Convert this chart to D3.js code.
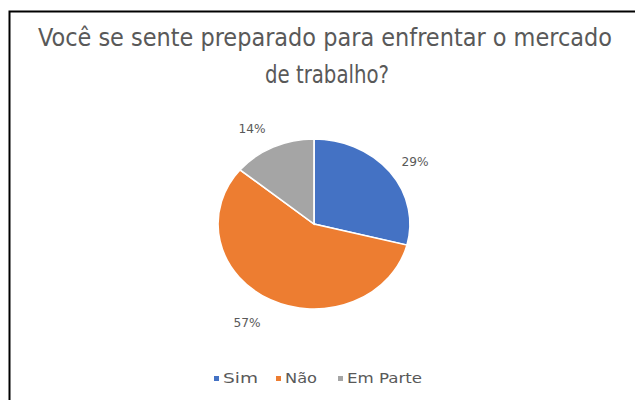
<!DOCTYPE html>
<html><head><meta charset="utf-8">
<script src="https://cdn.jsdelivr.net/npm/d3@7"></script>
<style>body{margin:0;background:#fff}svg{display:block}</style>
</head><body>
<svg id="c" width="635" height="400"></svg>
<script>
const categories = ["Sim", "Não", "Em Parte"];
const values = [29, 57, 14];
const labels = ["29%", "57%", "14%"];
const colors = ["#4472C4", "#ED7D31", "#A5A5A5"];
const titleLines = ["Você se sente preparado para enfrentar o mercado", "de trabalho?"];

const svg = d3.select("#c");
svg.append("rect").attr("x", 9.5).attr("y", 11.5).attr("width", 640).attr("height", 400)
  .attr("fill", "none").attr("stroke", "#000").attr("stroke-width", 2);

const font = "'Liberation Sans Narrow','DejaVu Sans Condensed','Liberation Sans',sans-serif";
svg.append("text").attr("x", 325).attr("y", 46).attr("text-anchor", "middle")
  .attr("font-family", font).attr("font-size", 24).attr("fill", "#595959")
  .attr("textLength", 574).attr("lengthAdjust", "spacingAndGlyphs").text(titleLines[0]);
svg.append("text").attr("x", 327).attr("y", 83).attr("text-anchor", "middle")
  .attr("font-family", font).attr("font-size", 24).attr("fill", "#595959")
  .attr("textLength", 124).attr("lengthAdjust", "spacingAndGlyphs").text(titleLines[1]);

const cx = 314, cy = 224, rx = 96, ry = 85;
const pie = d3.pie().sort(null).value(d => d)(values);
const arc = d3.arc().innerRadius(0).outerRadius(ry);
const g = svg.append("g").attr("transform", `translate(${cx},${cy}) scale(${rx/ry},1)`);
g.selectAll("path").data(pie).join("path")
  .attr("d", arc).attr("fill", (d, i) => colors[i])
  .attr("stroke", "#fff").attr("stroke-width", 1.5);

const labelPos = [[415, 166], [247, 327], [252, 133]];
svg.selectAll("text.lbl").data(labels).join("text").attr("class", "lbl")
  .attr("x", (d, i) => labelPos[i][0]).attr("y", (d, i) => labelPos[i][1])
  .attr("text-anchor", "middle").attr("font-family", font).attr("font-size", 12)
  .attr("fill", "#595959").attr("textLength", 27).attr("lengthAdjust", "spacingAndGlyphs").text(d => d);

const legX = [214, 276, 338];
const legW = [35, 32, 75];
const lg = svg.append("g");
categories.forEach((c, i) => {
  lg.append("rect").attr("x", legX[i]).attr("y", 376).attr("width", 5).attr("height", 5).attr("fill", colors[i]);
  lg.append("text").attr("x", legX[i] + 9).attr("y", 383).attr("font-family", font)
    .attr("font-size", 14).attr("fill", "#595959")
    .attr("textLength", legW[i]).attr("lengthAdjust", "spacingAndGlyphs").text(c);
});
</script>
</body></html>
